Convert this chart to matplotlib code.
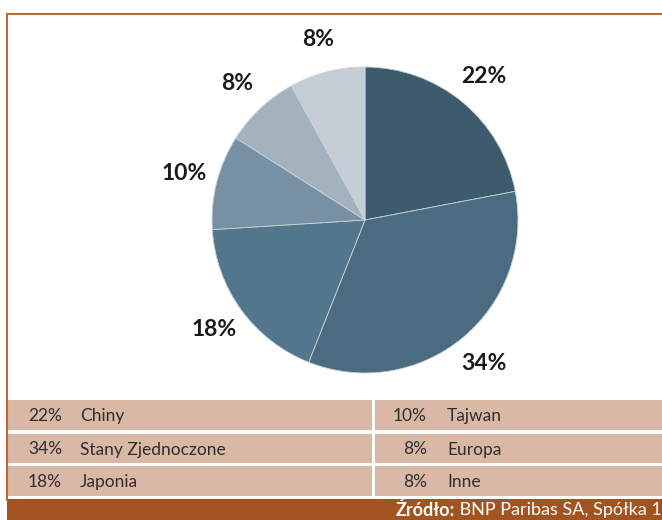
"""Pie of market shares with a two-column legend table and source footer."""
import matplotlib
matplotlib.use('Agg')
import matplotlib.pyplot as plt
from matplotlib.patches import Rectangle
from matplotlib.lines import Line2D

W, H = 662, 520

# data
regions = ['Chiny', 'Stany Zjednoczone', 'Japonia', 'Tajwan', 'Europa', 'Inne']
shares = [22, 34, 18, 10, 8, 8]
colors = ['#3e5a6d', '#4a6b80', '#52768c', '#7890a3', '#a4b2be', '#c5cdd6']
source_bold = 'Źródło:'
source_text = ' BNP Paribas SA, Spółka 1'

BORDER = '#b8693c'
BAND = '#d9b9a6'
FOOT = '#a3531f'
TXT = '#2e2e2e'

plt.rcParams['font.family'] = ['Lato', 'DejaVu Sans']

fig = plt.figure(figsize=(W / 100, H / 100), dpi=100)


def px(x, y):
    """pixel (top-left origin) -> figure fraction"""
    return x / W, 1 - y / H


# pie, center (365, 220), radius 153 px
cx, cy, r = 365, 220, 153
ax = fig.add_axes([(cx - r) / W, (H - cy - r) / H, 2 * r / W, 2 * r / H])
ax.pie(shares, colors=colors, startangle=90, counterclock=False,
       labels=[f'{s}%' for s in shares], labeldistance=1.22,
       wedgeprops=dict(linewidth=0.6, edgecolor='#c9d2da'),
       textprops=dict(fontsize=16.5, fontweight='bold', color='#1a1a1a',
                      ha='center', va='center'))
ax.set_aspect('equal')
ax.set_xlim(-1, 1); ax.set_ylim(-1, 1)

# frame
fig.add_artist(Line2D([px(7, 0)[0], 1], [px(0, 14)[1]] * 2, color=BORDER, lw=1.5))
fig.add_artist(Line2D([px(7, 0)[0]] * 2, [px(0, 14)[1], px(0, 500)[1]], color=BORDER, lw=1.5))

# table bands
rows = [(400, 430), (434, 463), (466, 496)]
col_split = 373
half = len(regions) // 2
for i, (y0, y1) in enumerate(rows):
    x0f, y1f = px(7, y1)
    fig.add_artist(Rectangle((x0f, y1f), (col_split - 1 - 7) / W, (y1 - y0) / H,
                             facecolor=BAND, edgecolor='none'))
    fig.add_artist(Rectangle(((col_split + 2) / W, y1f), (W - col_split - 2) / W,
                             (y1 - y0) / H, facecolor=BAND, edgecolor='none'))
    ym = (y0 + y1) / 2 + 1
    # left column
    fig.text(*px(62, ym), f'{shares[i]}%', ha='right', va='center', fontsize=12.5, color=TXT)
    fig.text(*px(80, ym), regions[i], ha='left', va='center', fontsize=12.5, color=TXT)
    # right column
    j = i + half
    fig.text(*px(427, ym), f'{shares[j]}%', ha='right', va='center', fontsize=12.5, color=TXT)
    fig.text(*px(447, ym), regions[j], ha='left', va='center', fontsize=12.5, color=TXT)

# footer
fig.add_artist(Rectangle(px(7, 520), 1, 21 / H, facecolor=FOOT, edgecolor='none'))
t = fig.text(*px(662, 510), source_text, ha='right', va='center', fontsize=13, color='white')
fig.canvas.draw()
bb = t.get_window_extent()
fig.text(bb.x0 / W, px(0, 510)[1], source_bold, ha='right', va='center',
         fontsize=13, fontweight='bold', color='white')

fig.savefig('out.png', dpi=100)
